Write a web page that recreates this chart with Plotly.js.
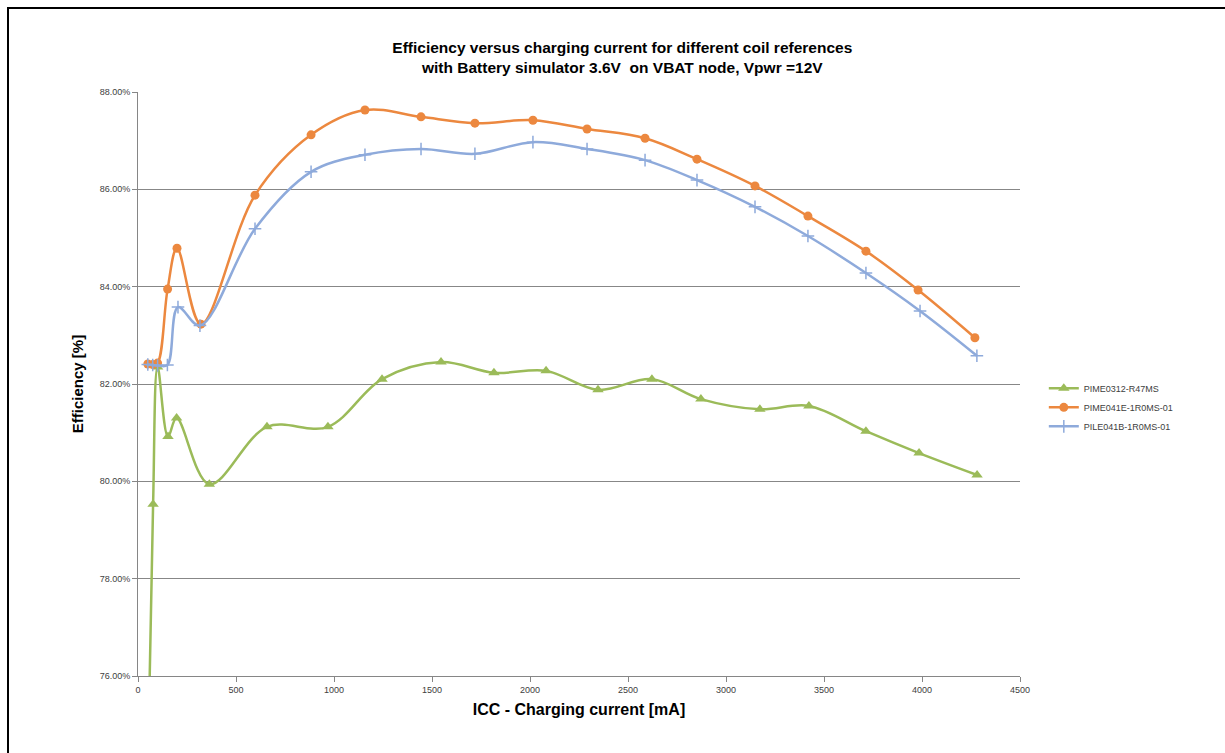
<!DOCTYPE html>
<html>
<head>
<meta charset="utf-8">
<script src="https://cdn.plot.ly/plotly-3.0.1.min.js"></script>
<style>
html,body{margin:0;padding:0;background:#fff;overflow:hidden;}
#frame{position:absolute;left:7px;top:7px;width:1400px;height:900px;border-top:2px solid #000;border-left:2px solid #000;pointer-events:none;z-index:5;}
#chart{position:absolute;left:0;top:0;width:1225px;height:753px;}
</style>
</head>
<body>
<div id="chart"></div>
<div id="frame"></div>
<script>
// Data
const seriesNames = ["PIME0312-R47MS", "PIME041E-1R0MS-01", "PILE041B-1R0MS-01"];

const greenX = [50, 77, 100, 153, 197, 364, 658, 969, 1245, 1546, 1816, 2082, 2347, 2622, 2872, 3173, 3423, 3714, 3985, 4281];
const greenY = [74.0, 79.53, 82.35, 80.92, 81.30, 79.94, 81.12, 81.12, 82.10, 82.45, 82.23, 82.27, 81.88, 82.10, 81.69, 81.48, 81.55, 81.03, 80.58, 80.13];

const orangeX = [50, 75, 100, 151, 199, 321, 597, 883, 1158, 1444, 1719, 2015, 2291, 2587, 2852, 3148, 3418, 3714, 3980, 4270];
const orangeY = [82.41, 82.40, 82.43, 83.95, 84.79, 83.23, 85.88, 87.12, 87.63, 87.49, 87.36, 87.42, 87.24, 87.05, 86.62, 86.07, 85.45, 84.73, 83.93, 82.95];

const blueX = [50, 75, 100, 150, 204, 316, 597, 883, 1158, 1444, 1719, 2015, 2291, 2587, 2852, 3148, 3418, 3714, 3990, 4280];
const blueY = [82.40, 82.39, 82.38, 82.39, 83.58, 83.20, 85.19, 86.36, 86.71, 86.83, 86.73, 86.97, 86.83, 86.60, 86.19, 85.64, 85.04, 84.28, 83.50, 82.58];

const yTickVals = [76, 78, 80, 82, 84, 86, 88];
const yTickText = ["76.00%", "78.00%", "80.00%", "82.00%", "84.00%", "86.00%", "88.00%"];
const xTickVals = [0, 500, 1000, 1500, 2000, 2500, 3000, 3500, 4000, 4500];

const FONT = "Liberation Sans, Arial, sans-serif";

const traces = [
  {x: greenX, y: greenY, name: seriesNames[0], type: "scatter", mode: "lines+markers",
   line: {color: "#9BBB59", width: 2.5, shape: "spline", smoothing: 1},
   marker: {symbol: "triangle-up", size: 10, color: "#9BBB59"}},
  {x: orangeX, y: orangeY, name: seriesNames[1], type: "scatter", mode: "lines+markers",
   line: {color: "#EC883F", width: 2.5, shape: "spline", smoothing: 1},
   marker: {symbol: "circle", size: 9, color: "#EC883F"}},
  {x: blueX, y: blueY, name: seriesNames[2], type: "scatter", mode: "lines+markers",
   line: {color: "#8EAADB", width: 2.5, shape: "spline", smoothing: 1},
   marker: {symbol: "cross-thin", size: 9, color: "#8EAADB", line: {color: "#8EAADB", width: 1.5}}}
];

const layout = {
  width: 1225, height: 753,
  paper_bgcolor: "#fff", plot_bgcolor: "#fff",
  margin: {l: 138, r: 205, t: 92, b: 77},
  font: {family: FONT, color: "#404040"},
  showlegend: true,
  title: {
    text: "<b>Efficiency versus charging current for different coil references<br>with Battery simulator 3.6V  on VBAT node, Vpwr =12V</b>",
    font: {family: FONT, size: 15.5, color: "#000"},
    x: 0.508, xref: "container", xanchor: "center",
    y: 0.93, yref: "container", yanchor: "top"
  },
  xaxis: {
    range: [0, 4500], tickvals: xTickVals, ticktext: xTickVals.map(String),
    showgrid: false, zeroline: false,
    showline: true, linecolor: "#868686", linewidth: 1,
    ticks: "outside", ticklen: 5, tickcolor: "#868686",
    tickfont: {family: FONT, size: 9, color: "#404040"},
    title: {text: "<b>ICC - Charging current [mA]</b>", font: {family: FONT, size: 16, color: "#000"}, standoff: 10}
  },
  yaxis: {
    range: [76, 88], tickvals: yTickVals, ticktext: yTickText,
    showgrid: true, gridcolor: "#878787", gridwidth: 1,
    zeroline: false,
    showline: true, linecolor: "#868686", linewidth: 1,
    ticks: "outside", ticklen: 5, tickcolor: "#868686",
    tickfont: {family: FONT, size: 9, color: "#404040"},
    title: {text: "<b>Efficiency [%]</b>", font: {family: FONT, size: 15, color: "#000"}, standoff: 12}
  },
  legend: {
    x: 1.027, xanchor: "left", y: 0.46, yanchor: "middle",
    font: {family: FONT, size: 9, color: "#404040"},
    bgcolor: "rgba(0,0,0,0)", itemwidth: 30, tracegroupgap: 6
  }
};

Plotly.newPlot("chart", traces, layout, {displayModeBar: false, staticPlot: true});
</script>
</body>
</html>
